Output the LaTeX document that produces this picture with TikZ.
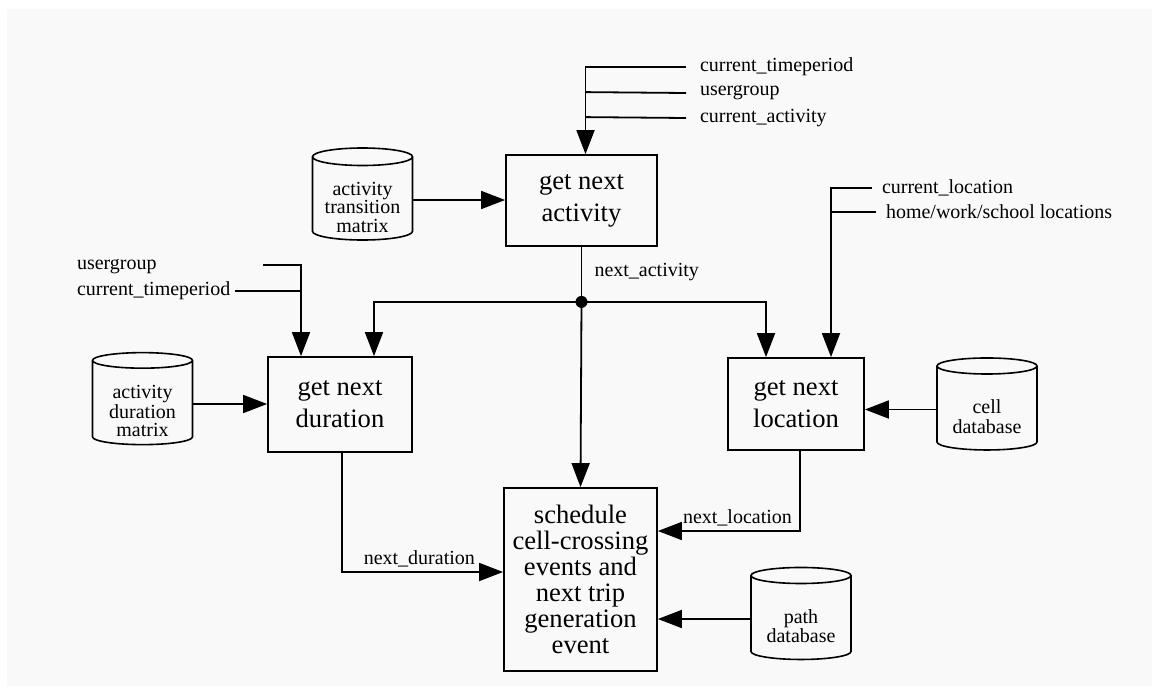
\documentclass[tikz,border=0pt]{standalone}
\usepackage{fontspec}
\setmainfont{Liberation Serif}
\usepackage{tikz}
\usetikzlibrary{positioning,arrows.meta,calc,shapes.geometric}
\definecolor{panel}{HTML}{F9F9F9}
\newcommand{\boxfont}{\fontsize{13.3}{16}\selectfont}
\newcommand{\schedfont}{\fontsize{13.3}{13}\selectfont}
\newcommand{\tagfont}{\fontsize{10}{12}\selectfont}
\newcommand{\dbfont}{\fontsize{10}{9.3}\selectfont}
% store text sits below the top lid
\newcommand{\dbtext}[1]{\raisebox{-5pt}[\height][\depth]{\begin{tabular}{@{}c@{}}#1\end{tabular}}}
\tikzset{
  proc/.style  = {rectangle, draw, line width=0.9pt, align=center, font=\boxfont, inner sep=2pt},
  db/.style    = {cylinder, shape border rotate=90, draw, line width=0.8pt, aspect=0.22,
                  minimum width=50pt, minimum height=46pt, inner sep=1pt, font=\dbfont},
  flow/.style  = {-{Triangle[length=12pt,width=9pt]}, line width=0.9pt},
  wire/.style  = {line width=0.9pt},
  tag/.style   = {font=\tagfont, inner sep=0pt, outer sep=2.5pt, anchor=west},
}
\begin{document}
\begin{tikzpicture}[x=0.5pt, y=-0.5pt]
  \useasboundingbox (0,0) rectangle (1152,686);
  \fill[panel] (7,9) rectangle (1152,686);

  % processes
  \node[proc, minimum width=75.5pt, minimum height=45.5pt] (act) at (581.5,200.5) {get next\\activity};
  \node[proc, minimum width=72pt, minimum height=47.5pt] (dur) at (340,404.5) {get next\\duration};
  \node[proc, minimum width=68pt, minimum height=46pt] (loc) at (796,404) {get next\\location};
  \node[proc, minimum width=76.5pt, minimum height=91.5pt, font=\schedfont] (sched) at (580.5,579.5)
    {schedule\\cell-crossing\\events and\\next trip\\generation\\event};

  % data stores
  \node[db] (tmat) at (362.5,200) {\dbtext{activity\\transition\\matrix}};
  \node[db] (dmat) at (142.5,404) {\dbtext{activity\\duration\\matrix}};
  \node[db] (celldb) at (987,409.5) {\dbtext{cell\\database}};
  \node[db] (pathdb) at (801,619) {\dbtext{path\\database}};

  % inputs of get next activity
  \node[tag, outer sep=7pt] (ctp1) at (686,67) {current\_timeperiod};
  \node[tag, outer sep=7pt] (ug1) at (686,93) {usergroup};
  \node[tag, outer sep=7pt] (ca1) at (686,118) {current\_activity};
  \draw[flow] (ctp1.west) -| ($(act.north)+(4,0)$);
  \draw[wire] (ug1.west) -- ($(act.north)+(4,-62)$);
  \draw[wire] (ca1.west) -- ($(act.north)+(4,-37)$);
  \draw[flow] (tmat.east) -- (tmat.east -| act.west);

  % inputs of get next duration
  \node[tag] (ug2) at (72,267) {usergroup};
  \node[tag] (ctp2) at (72,291) {current\_timeperiod};
  \coordinate (ugtail) at (263,265);
  \coordinate (durtap) at ($(dur.north)+(-39,0)$);
  \draw[flow] (ugtail) -| (durtap);
  \draw[wire] (ctp2.east) -- (ctp2.east -| durtap);
  \draw[flow] (dmat.east) -- (dmat.east -| dur.west);

  % next_activity fans out
  \coordinate (split) at ($(act.south)+(0,55)$);
  \draw[wire] (act.south) -- node[tag, pos=0.45, right=4pt] {next\_activity} (split);
  \draw[flow] (split) -| ($(dur.north)+(34,0)$);
  \draw[flow] (split) -| ($(loc.north)+(-30,0)$);
  \draw[flow] (split) -- (sched.north);
  \fill (split) circle (3pt);

  % inputs of get next location
  \node[tag, outer sep=5pt] (cl) at (872,188) {current\_location};
  \node[tag, outer sep=5pt] (hws) at (876,212) {home/work/school locations};
  \coordinate (loctap) at ($(loc.north)+(35,0)$);
  \draw[flow] (cl.west) -| (loctap);
  \draw[wire] (hws.west) -- (hws.west -| loctap);
  \draw[flow] (celldb.west) -- (celldb.west -| loc.east);

  % into the scheduler
  \draw[flow] ($(dur.south)+(2,0)$) |- node[tag, above, pos=0.74] {next\_duration} ($(sched.west)+(0,-7.5)$);
  \draw[flow] ($(loc.south)+(4,0)$) |- node[tag, above, pos=0.72] {next\_location} ($(sched.east)+(0,-48.5)$);
  \draw[flow] (pathdb.west) -- (pathdb.west -| sched.east);
\end{tikzpicture}
\end{document}
